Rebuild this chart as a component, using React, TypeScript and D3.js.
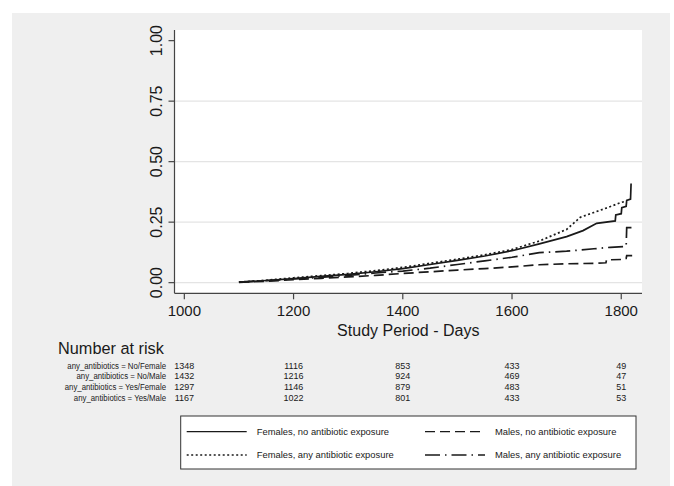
import React from "react";
import * as d3 from "d3";

// ---- data (cumulative incidence) ----
const femNoDays = [1100, 1150, 1200, 1250, 1300, 1350, 1400, 1450, 1500, 1550, 1600, 1650, 1700, 1730, 1755, 1789, 1790, 1800, 1801, 1809, 1810, 1817, 1818];
const femNoVals = [0.002, 0.009, 0.017, 0.026, 0.034, 0.045, 0.058, 0.075, 0.092, 0.11, 0.132, 0.16, 0.19, 0.215, 0.245, 0.255, 0.28, 0.285, 0.31, 0.315, 0.34, 0.345, 0.41];

const femAnyDays = [1100, 1150, 1200, 1250, 1300, 1350, 1400, 1450, 1500, 1550, 1600, 1650, 1700, 1725, 1750, 1775, 1798, 1806];
const femAnyVals = [0.002, 0.01, 0.02, 0.029, 0.038, 0.05, 0.063, 0.08, 0.097, 0.115, 0.137, 0.172, 0.22, 0.27, 0.29, 0.31, 0.33, 0.335];

const maleNoDays = [1100, 1150, 1200, 1250, 1300, 1350, 1400, 1450, 1500, 1550, 1600, 1650, 1700, 1755, 1772, 1773, 1803, 1804, 1809, 1810, 1820];
const maleNoVals = [0.001, 0.006, 0.012, 0.018, 0.024, 0.03, 0.038, 0.045, 0.052, 0.058, 0.065, 0.074, 0.078, 0.08, 0.082, 0.094, 0.096, 0.1, 0.1, 0.112, 0.112];

const maleAnyDays = [1100, 1150, 1200, 1250, 1300, 1350, 1400, 1450, 1500, 1550, 1600, 1650, 1700, 1750, 1780, 1809, 1810, 1820];
const maleAnyVals = [0.002, 0.008, 0.015, 0.022, 0.03, 0.04, 0.048, 0.06, 0.075, 0.09, 0.105, 0.124, 0.13, 0.14, 0.146, 0.15, 0.227, 0.227];

const xTicks = [1000, 1200, 1400, 1600, 1800];
const yTicks = [0, 0.25, 0.5, 0.75, 1];
const yGrid = [0, 0.25, 0.5, 0.75];

const riskLabels = [
  "any_antibiotics = No/Female",
  "any_antibiotics = No/Male",
  "any_antibiotics = Yes/Female",
  "any_antibiotics = Yes/Male",
];
const riskCounts = [
  [1348, 1116, 853, 433, 49],
  [1432, 1216, 924, 469, 47],
  [1297, 1146, 879, 483, 51],
  [1167, 1022, 801, 433, 53],
];

const legendLabels = [
  "Females, no antibiotic exposure",
  "Males, no antibiotic exposure",
  "Females, any antibiotic exposure",
  "Males, any antibiotic exposure",
];

const FONT = "'Liberation Sans', Arial, Helvetica, sans-serif";
const INK = "#1a1a1a";

const dashSolid = "none";
const dashDotted = "2,2.5";
const dashDashed = "10,5";
const dashDashDot = "15,5,1.5,5";

export default function App() {
  const left = 174.5, right = 642, top = 30, bottom = 293.3;
  const x = d3.scaleLinear().domain([982, 1838]).range([left, right]);
  const y = d3.scaleLinear().domain([-0.044, 1.044]).range([bottom, top]);

  const line = d3
    .line<[number, number]>()
    .x((d) => x(d[0]))
    .y((d) => y(d[1]))
    .curve(d3.curveLinear);

  const series = [
    { days: femNoDays, vals: femNoVals, dash: dashSolid },
    { days: maleNoDays, vals: maleNoVals, dash: dashDashed },
    { days: femAnyDays, vals: femAnyVals, dash: dashDotted },
    { days: maleAnyDays, vals: maleAnyVals, dash: dashDashDot },
  ];

  const legendDash = [dashSolid, dashDashed, dashDotted, dashDashDot];

  return (
    <svg
      width={674}
      height={486}
      style={{ position: "absolute", left: 0, top: 0, background: "#fff" }}
      fontFamily={FONT}
    >
      <rect x={12} y={13} width={658} height={473} fill="#efefef" />
      <rect x={left} y={top} width={right - left} height={bottom - top} fill="#fff" />

      {yGrid.map((t) => (
        <line key={t} x1={left} x2={right} y1={y(t)} y2={y(t)} stroke="#e4e4e4" strokeWidth={1.2} />
      ))}

      {/* axes */}
      <line x1={left} x2={left} y1={top} y2={bottom} stroke="#444" strokeWidth={1.2} />
      <line x1={left} x2={right} y1={bottom} y2={bottom} stroke="#444" strokeWidth={1.2} />

      {yTicks.map((t) => (
        <g key={t}>
          <line x1={left - 6} x2={left} y1={y(t)} y2={y(t)} stroke="#444" strokeWidth={1.2} />
          <text
            transform={`translate(${left - 13},${y(t)}) rotate(-90)`}
            textAnchor="middle"
            fontSize={16}
            fill={INK}
          >
            {d3.format(".2f")(t)}
          </text>
        </g>
      ))}

      {xTicks.map((t) => (
        <g key={t}>
          <line x1={x(t)} x2={x(t)} y1={bottom} y2={bottom + 6} stroke="#444" strokeWidth={1.2} />
          <text x={x(t)} y={bottom + 23} textAnchor="middle" fontSize={15} fill={INK}>
            {t}
          </text>
        </g>
      ))}
      <text x={(left + right) / 2} y={336} textAnchor="middle" fontSize={16} fill={INK}>
        Study Period - Days
      </text>

      {series.map((s, i) => (
        <path
          key={i}
          d={line(s.days.map((d, j) => [d, s.vals[j]] as [number, number])) || ""}
          fill="none"
          stroke={INK}
          strokeWidth={1.7}
          strokeDasharray={s.dash}
        />
      ))}

      {/* number at risk */}
      <text x={58} y={354} fontSize={16.3} fill={INK}>
        Number at risk
      </text>
      {riskLabels.map((lab, i) => (
        <g key={lab}>
          <text
            transform={`translate(166,${368.5 + i * 10.8}) scale(0.85,1)`}
            textAnchor="end"
            fontSize={9.2}
            fill={INK}
          >
            {lab}
          </text>
          {riskCounts[i].map((c, j) => (
            <text key={j} x={x(xTicks[j])} y={368.5 + i * 10.8} textAnchor="middle" fontSize={9} fill={INK}>
              {c}
            </text>
          ))}
        </g>
      ))}

      {/* legend */}
      <rect x={180.7} y={416} width={455.3} height={53} fill="#fff" stroke="#333" strokeWidth={1} />
      {legendLabels.map((lab, i) => {
        const col = i % 2;
        const row = Math.floor(i / 2);
        const lx = col === 0 ? 186.7 : 425;
        const ly = row === 0 ? 431.7 : 455;
        return (
          <g key={lab}>
            <line x1={lx} x2={lx + 60} y1={ly} y2={ly} stroke={INK} strokeWidth={1.3} strokeDasharray={legendDash[i]} />
            <text x={lx + 70} y={ly + 3.4} fontSize={9.4} fill={INK}>
              {lab}
            </text>
          </g>
        );
      })}
    </svg>
  );
}
